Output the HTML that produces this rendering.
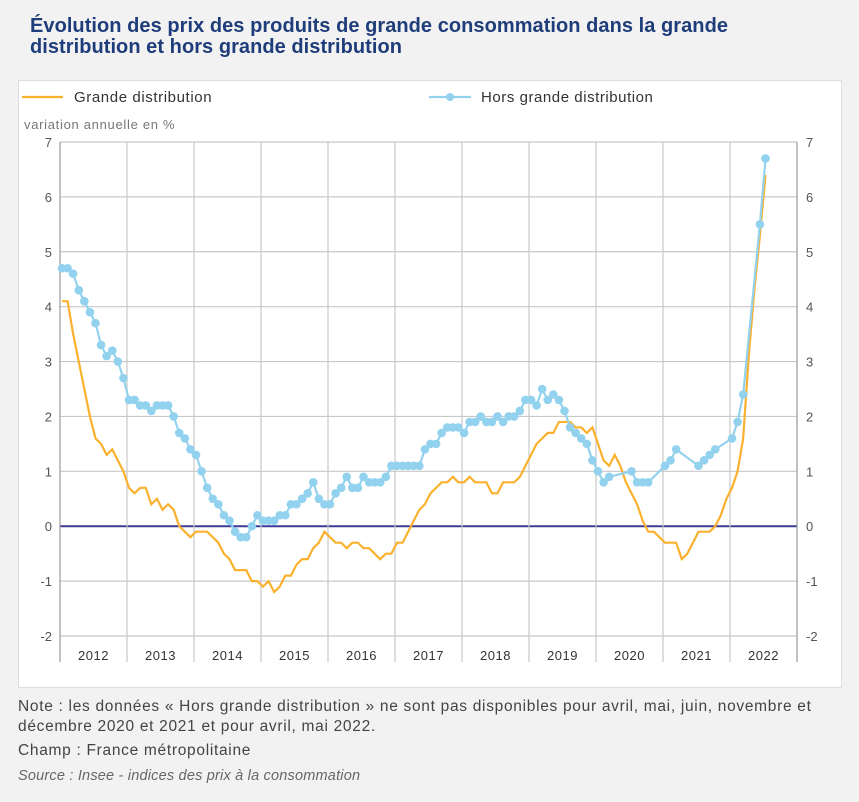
<!DOCTYPE html>
<html><head><meta charset="utf-8"><style>
body{margin:0;width:859px;height:802px;background:#f2f2f2;font-family:"Liberation Sans",sans-serif;position:relative;overflow:hidden}
.t{position:absolute;left:30px;top:16px;font-size:20px;font-weight:bold;color:#1f3d7a;line-height:21px;letter-spacing:0.05px}
.panel{position:absolute;left:18px;top:80px;width:822px;height:606px;background:#fff;border:1px solid #ddd}
.n{position:absolute;left:18px;font-size:15.5px;color:#444;letter-spacing:0.7px}
</style></head><body>
<div class="t">Évolution des prix des produits de grande consommation dans la grande<br>distribution et hors grande distribution</div>
<div class="panel"></div>
<svg id="c" width="859" height="802" style="position:absolute;left:0;top:0"></svg>
<div class="n" style="top:697px;line-height:20px">Note : les données « Hors grande distribution » ne sont pas disponibles pour avril, mai, juin, novembre et<br>décembre 2020 et 2021 et pour avril, mai 2022.</div>
<div class="n" style="top:742px">Champ : France métropolitaine</div>
<div class="n" style="top:768px;font-style:italic;font-size:14.5px;color:#666;letter-spacing:0.2px">Source : Insee - indices des prix à la consommation</div>
<script>
const years=["2012","2013","2014","2015","2016","2017","2018","2019","2020","2021","2022"];
const yTicks=[7,6,5,4,3,2,1,0,-1,-2];
const grande=[4.1,4.1,3.5,3.0,2.5,2.0,1.6,1.5,1.3,1.4,1.2,1.0,
0.7,0.6,0.7,0.7,0.4,0.5,0.3,0.4,0.3,0.0,-0.1,-0.2,
-0.1,-0.1,-0.1,-0.2,-0.3,-0.5,-0.6,-0.8,-0.8,-0.8,-1.0,-1.0,
-1.1,-1.0,-1.2,-1.1,-0.9,-0.9,-0.7,-0.6,-0.6,-0.4,-0.3,-0.1,
-0.2,-0.3,-0.3,-0.4,-0.3,-0.3,-0.4,-0.4,-0.5,-0.6,-0.5,-0.5,
-0.3,-0.3,-0.1,0.1,0.3,0.4,0.6,0.7,0.8,0.8,0.9,0.8,
0.8,0.9,0.8,0.8,0.8,0.6,0.6,0.8,0.8,0.8,0.9,1.1,
1.3,1.5,1.6,1.7,1.7,1.9,1.9,1.9,1.8,1.8,1.7,1.8,
1.5,1.2,1.1,1.3,1.1,0.8,0.6,0.4,0.1,-0.1,-0.1,-0.2,
-0.3,-0.3,-0.3,-0.6,-0.5,-0.3,-0.1,-0.1,-0.1,0.0,0.2,0.5,
0.7,1.0,1.6,3.1,4.3,5.3,6.4];
const hors=[4.7,4.7,4.6,4.3,4.1,3.9,3.7,3.3,3.1,3.2,3.0,2.7,
2.3,2.3,2.2,2.2,2.1,2.2,2.2,2.2,2.0,1.7,1.6,1.4,
1.3,1.0,0.7,0.5,0.4,0.2,0.1,-0.1,-0.2,-0.2,0.0,0.2,
0.1,0.1,0.1,0.2,0.2,0.4,0.4,0.5,0.6,0.8,0.5,0.4,
0.4,0.6,0.7,0.9,0.7,0.7,0.9,0.8,0.8,0.8,0.9,1.1,
1.1,1.1,1.1,1.1,1.1,1.4,1.5,1.5,1.7,1.8,1.8,1.8,
1.7,1.9,1.9,2.0,1.9,1.9,2.0,1.9,2.0,2.0,2.1,2.3,
2.3,2.2,2.5,2.3,2.4,2.3,2.1,1.8,1.7,1.6,1.5,1.2,
1.0,0.8,0.9,null,null,null,1.0,0.8,0.8,0.8,null,null,
1.1,1.2,1.4,null,null,null,1.1,1.2,1.3,1.4,null,null,
1.6,1.9,2.4,null,null,5.5,6.7];
const svg=document.getElementById('c');const NS='http://www.w3.org/2000/svg';
const L=60,R=797,T=142,B=636,yMin=-2,yMax=7,yw=(R-L)/11;
const X=i=>L+2+i*yw/12, Y=v=>B-(v-yMin)/(yMax-yMin)*(B-T);
function mk(t,a,p){const e=document.createElementNS(NS,t);for(const k in a)e.setAttribute(k,a[k]);(p||svg).appendChild(e);return e;}
const g=mk('g',{});


yTicks.forEach(v=>{
 const l=mk('line',{x1:L,x2:R,y1:Y(v),y2:Y(v),stroke:v===0?'#3c3c96':'#c8c8c8','stroke-width':v===0?2:1.2},g);
 
 
 const a=mk('text',{x:L-8,y:Y(v)+5,'text-anchor':'end','font-size':13,fill:'#555'});a.textContent=v;
 
 
 const b=mk('text',{x:R+9,y:Y(v)+5,'font-size':13,fill:'#555'});b.textContent=v;
 
 
});
for(let k=0;k<=11;k++){const x=L+k*yw;const l=mk('line',{x1:x,x2:x,y1:T,y2:662,stroke:k==0||k==11?'#999':'#c8c8c8','stroke-width':1.2},g);
 
 }
years.forEach((y,k)=>{const t=mk('text',{x:L+(k+0.5)*yw,y:660,'text-anchor':'middle','font-size':13,fill:'#333','letter-spacing':0.5});t.textContent=y;
 
 });
const lg=mk('polyline',{points:grande.map((v,i)=>X(i)+','+Y(v)).join(' '),fill:'none',stroke:'#fbb12e','stroke-width':2.2});


let seg=[];hors.forEach((v,i)=>{if(v!==null)seg.push(X(i)+','+Y(v));});
const lh=mk('polyline',{points:seg.join(' '),fill:'none',stroke:'#93d2ee','stroke-width':2.2});


hors.forEach((v,i)=>{if(v===null)return;const c=mk('circle',{cx:X(i),cy:Y(v),r:4.3,fill:'#93d2ee'});
 
 });
let e=mk('line',{x1:22,x2:63,y1:97,y2:97,stroke:'#fbb12e','stroke-width':2.2});


e=mk('text',{x:74,y:102,'font-size':15,fill:'#333','letter-spacing':0.6});e.textContent='Grande distribution';


e=mk('line',{x1:429,x2:471,y1:97,y2:97,stroke:'#93d2ee','stroke-width':2.2});


e=mk('circle',{cx:450,cy:97,r:4,fill:'#93d2ee'});


e=mk('text',{x:481,y:102,'font-size':15,fill:'#333','letter-spacing':0.55});e.textContent='Hors grande distribution';


e=mk('text',{x:24,y:129,'font-size':13,fill:'#777','letter-spacing':0.7});e.textContent='variation annuelle en %';


</script>
</body></html>
